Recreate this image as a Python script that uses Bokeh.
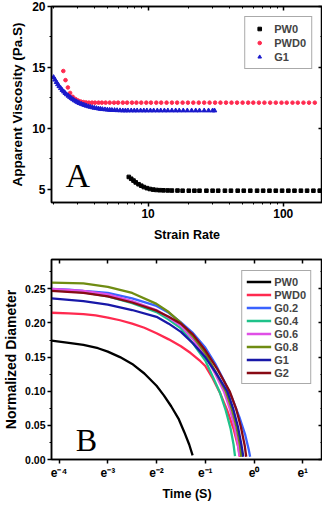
import numpy as np
from bokeh.plotting import figure
from bokeh.layouts import column
from bokeh.models import (LinearAxis, LogAxis, SingleIntervalTicker, LogTicker, FixedTicker,
                          PrintfTickFormatter, CustomJSTickFormatter, Label, Range1d)
from bokeh.embed import file_html
from bokeh.resources import INLINE

# ---------------- Panel A data (strain rate vs apparent viscosity) ----------------
pw0_rate = [7.2, 7.5, 7.8, 8.1, 8.5, 8.9, 9.3, 9.8, 10.3, 10.9, 11.5, 12.2, 13, 14, 15, 16.5,
            18, 20, 22, 24, 27, 30, 33, 37, 41, 46, 51, 57, 64, 71, 79, 88, 98, 109, 121,
            135, 150, 167, 186, 200]
pw0_visc = [6.0, 5.85, 5.7, 5.55, 5.4, 5.28, 5.17, 5.08, 5.01, 4.96, 4.93, 4.91, 4.9, 4.89,
            4.88, 4.88, 4.87, 4.87, 4.87, 4.87, 4.87, 4.87, 4.87, 4.87, 4.87, 4.87, 4.87,
            4.87, 4.87, 4.87, 4.87, 4.87, 4.87, 4.87, 4.87, 4.87, 4.87, 4.87, 4.87, 4.87]

pwd0_rate = [2.36, 2.45, 2.55, 2.65, 2.77, 2.9, 3.03, 3.17, 3.32, 3.48, 3.65, 3.85, 4.05,
             4.3, 4.55, 4.85, 5.2, 5.6, 6.0, 6.5, 7.0, 7.6, 8.2, 8.9, 9.7, 10.5, 11.5, 12.5,
             13.7, 15, 16.4, 18, 19.7, 21.6, 23.7, 26, 28.5, 31.3, 34.3, 37.7, 41.4, 45.5,
             50, 55, 60, 66, 72.5, 80, 88, 97, 106, 117, 128, 141, 155, 171]
pwd0_visc = [14.7, 13.95, 13.35, 12.9, 12.58, 12.4, 12.28, 12.2, 12.15, 12.12] + [12.1] * 46

g1_rate = [2.0, 2.05, 2.1, 2.15, 2.2, 2.26, 2.32, 2.38, 2.44, 2.5, 2.57, 2.64, 2.71, 2.78,
           2.86, 2.94, 3.02, 3.1, 3.2, 3.3, 3.4, 3.5, 3.62, 3.74, 3.87, 4.0, 4.15, 4.3, 4.45,
           4.6, 4.8, 5.0, 5.2, 5.4, 5.65, 5.9, 6.2, 6.5, 6.8, 7.1, 7.5, 7.9, 8.3, 8.8, 9.3,
           9.8, 10.4, 11, 11.7, 12.4, 13.2, 14, 15, 16, 17, 18.2, 19.5, 21, 22.5, 24, 26,
           28, 30, 31]
g1_visc = [14.19, 13.98, 13.78, 13.6, 13.44, 13.28, 13.13, 13.0, 12.88, 12.77, 12.66, 12.56,
           12.46, 12.37, 12.28, 12.2, 12.13, 12.06, 12.0, 11.94, 11.89, 11.84, 11.79, 11.75,
           11.71, 11.67, 11.64, 11.61, 11.58, 11.56, 11.54, 11.52, 11.5, 11.49, 11.48, 11.47,
           11.46] + [11.45] * 27

# ---------------- Panel B data (ln time vs normalized diameter) ----------------
b_names = ["PW0", "PWD0", "G0.2", "G0.4", "G0.6", "G0.8", "G1", "G2"]
b_colors = ["#000000", "#ff2a4f", "#3a62ff", "#1fc28a", "#e04fe6", "#6f8c12", "#1818a8", "#880a14"]

pw0_lnt = [-4.155, -3.8, -3.5, -3.2, -3.0, -2.75, -2.5, -2.25, -2.0, -1.85, -1.7, -1.55, -1.43, -1.33, -1.26]
pw0_d = [0.174, 0.171, 0.168, 0.163, 0.158, 0.150, 0.140, 0.126, 0.108, 0.094, 0.078, 0.060, 0.040, 0.022, 0.006]

pwd0_lnt = [-4.155, -3.8, -3.5, -3.25, -3.0, -2.75, -2.5, -2.25, -2.0, -1.75, -1.5, -1.3, -1.1, -1.0,
            -0.85, -0.7, -0.55, -0.42, -0.33, -0.29]
pwd0_d = [0.215, 0.214, 0.213, 0.211, 0.208, 0.204, 0.199, 0.193, 0.185, 0.176, 0.166, 0.156, 0.144,
          0.137, 0.119, 0.098, 0.072, 0.045, 0.020, 0.004]

g02_lnt = [-4.155, -3.8, -3.5, -3.0, -2.5, -2.0, -1.75, -1.5, -1.25, -1.0, -0.8, -0.62, -0.45, -0.3, -0.18, -0.11, -0.08]
g02_d = [0.250, 0.249, 0.247, 0.244, 0.236, 0.225, 0.215, 0.201, 0.185, 0.164, 0.141, 0.116, 0.090, 0.062, 0.036, 0.015, 0.004]

g04_lnt = [-4.155, -3.5, -3.0, -2.5, -2.0, -1.75, -1.5, -1.25, -1.0, -0.85, -0.7, -0.58, -0.48, -0.42, -0.39]
g04_d = [0.248, 0.245, 0.239, 0.229, 0.216, 0.205, 0.192, 0.170, 0.145, 0.122, 0.098, 0.072, 0.045, 0.022, 0.005]

g06_lnt = [-4.155, -3.5, -3.0, -2.5, -2.0, -1.75, -1.5, -1.25, -1.0, -0.8, -0.62, -0.5, -0.4, -0.33, -0.3]
g06_d = [0.250, 0.247, 0.242, 0.232, 0.219, 0.208, 0.196, 0.176, 0.152, 0.126, 0.100, 0.075, 0.048, 0.022, 0.005]

g08_lnt = [-4.155, -3.5, -3.0, -2.5, -2.0, -1.75, -1.5, -1.25, -1.0, -0.8, -0.58, -0.46, -0.36, -0.29, -0.26]
g08_d = [0.259, 0.258, 0.253, 0.244, 0.228, 0.216, 0.200, 0.180, 0.156, 0.130, 0.100, 0.075, 0.048, 0.022, 0.004]

g1_lnt = [-4.155, -3.5, -3.0, -2.5, -2.0, -1.75, -1.5, -1.25, -1.0, -0.78, -0.55, -0.43, -0.33, -0.26, -0.22]
g1_d = [0.236, 0.232, 0.227, 0.219, 0.209, 0.199, 0.187, 0.170, 0.150, 0.127, 0.100, 0.075, 0.048, 0.022, 0.004]

g2_lnt = [-4.155, -3.5, -3.0, -2.5, -2.0, -1.75, -1.5, -1.25, -1.0, -0.75, -0.5, -0.37, -0.27, -0.19, -0.16]
g2_d = [0.247, 0.244, 0.239, 0.230, 0.218, 0.209, 0.199, 0.183, 0.160, 0.132, 0.100, 0.075, 0.048, 0.020, 0.004]

b_lnt = [pw0_lnt, pwd0_lnt, g02_lnt, g04_lnt, g06_lnt, g08_lnt, g1_lnt, g2_lnt]
b_d = [pw0_d, pwd0_d, g02_d, g04_d, g06_d, g08_d, g1_d, g2_d]

FONT = "Liberation Sans"
W = 322


def style_axis(ax, label_size):
    ax.axis_line_width = 1.5
    ax.axis_line_color = "black"
    ax.major_tick_line_width = 1.5
    ax.minor_tick_line_width = 1
    ax.major_tick_out = 4
    ax.major_tick_in = 0
    ax.minor_tick_out = 2
    ax.minor_tick_in = 0
    ax.major_label_text_font = FONT
    ax.major_label_text_font_style = "bold"
    ax.major_label_text_font_size = label_size
    ax.major_label_text_color = "black"
    ax.major_label_standoff = 2
    ax.axis_label_text_font = FONT
    ax.axis_label_text_font_style = "bold"
    ax.axis_label_text_color = "black"


def mirror_axis(ax):
    ax.axis_line_width = 1.5
    ax.major_tick_line_width = 1.5
    ax.major_tick_in = 4
    ax.major_tick_out = 0
    ax.minor_tick_in = 2
    ax.minor_tick_out = 0
    ax.major_label_text_font_size = "1px"
    ax.major_label_text_color = None
    ax.major_label_standoff = 0


def style_frame(p):
    p.xgrid.visible = False
    p.ygrid.visible = False
    p.outline_line_color = "black"
    p.outline_line_width = 1.5
    p.background_fill_color = "white"
    p.border_fill_color = "white"


# ---------------- Panel A ----------------
pA = figure(width=W, height=246, x_axis_type="log",
            x_range=Range1d(1.93, 195), y_range=Range1d(3.9, 20),
            output_backend="svg", toolbar_location=None,
            min_border_left=44, min_border_right=0, min_border_top=6, min_border_bottom=44)
style_frame(pA)

pA.scatter(pw0_rate, pw0_visc, marker="square", size=3.6, color="black", legend_label="PW0")
pA.scatter(pwd0_rate, pwd0_visc, marker="circle", size=3.6, color="#ff2a4f", legend_label="PWD0")
pA.scatter(g1_rate, g1_visc, marker="triangle", size=4.5, color="#1a1acc", legend_label="G1")

ya = pA.yaxis[0]
ya.ticker = SingleIntervalTicker(interval=5, num_minor_ticks=2)
ya.axis_label = "Apparent Viscosity (Pa.S)"
style_axis(ya, "12px")
ya.axis_label_text_font_size = "13.5px"
ya.axis_label_standoff = 4

xa = pA.xaxis[0]
xa.ticker = LogTicker(num_minor_ticks=10)
xa.formatter = PrintfTickFormatter(format="%d")
xa.axis_label = "Strain Rate"
style_axis(xa, "12px")
xa.axis_label_text_font_size = "12.5px"
xa.axis_label_standoff = 7

ra = LinearAxis(ticker=SingleIntervalTicker(interval=5, num_minor_ticks=2))
mirror_axis(ra)
pA.add_layout(ra, "right")
ta = LogAxis(ticker=LogTicker(num_minor_ticks=10))
mirror_axis(ta)
pA.add_layout(ta, "above")

pA.add_layout(Label(x=2.45, y=6.1, text="A", text_font="Liberation Serif",
                    text_font_size="34px", text_baseline="alphabetic", text_color="black"))

lgA = pA.legend[0]
lgA.location = "top_right"
lgA.margin = 10
lgA.padding = 5
lgA.spacing = 1
lgA.label_height = 13
lgA.glyph_height = 9
lgA.glyph_width = 18
lgA.label_standoff = 6
lgA.label_text_font = FONT
lgA.label_text_font_style = "bold"
lgA.label_text_font_size = "11px"
lgA.border_line_color = "#555555"
lgA.border_line_width = 1
lgA.background_fill_alpha = 1

# ---------------- Panel B ----------------
pB = figure(width=W, height=257, x_axis_type="log",
            x_range=Range1d(float(np.exp(-4.155)), float(np.exp(1.405))),
            y_range=Range1d(0, 0.293),
            output_backend="svg", toolbar_location=None,
            min_border_left=44, min_border_right=0, min_border_top=13, min_border_bottom=39)
style_frame(pB)

for name, col, lnt, d in zip(b_names, b_colors, b_lnt, b_d):
    pB.line(np.exp(lnt), d, line_color=col, line_width=2.3, legend_label=name)

yb = pB.yaxis[0]
yb.ticker = SingleIntervalTicker(interval=0.05, num_minor_ticks=2)
yb.formatter = PrintfTickFormatter(format="%.2f")
yb.axis_label = "Normalized Diameter"
style_axis(yb, "10.5px")
yb.axis_label_text_font_size = "14px"
yb.axis_label_standoff = 3

xb = pB.xaxis[0]
xb.ticker = FixedTicker(ticks=[float(np.exp(k)) for k in range(-4, 2)], minor_ticks=[])
xb.formatter = CustomJSTickFormatter(code="""
const k = Math.round(Math.log(tick));
const sup = {'-': '\\u207b', '0': '\\u2070', '1': '\\u00b9', '2': '\\u00b2', '3': '\\u00b3', '4': '\\u2074'};
return 'e' + String(k).split('').map(c => sup[c]).join('');
""")
xb.axis_label = "Time (S)"
style_axis(xb, "12px")
xb.axis_label_text_font_size = "12.5px"
xb.axis_label_standoff = 4

rb = LinearAxis(ticker=SingleIntervalTicker(interval=0.05, num_minor_ticks=2))
mirror_axis(rb)
pB.add_layout(rb, "right")
tb = LogAxis(ticker=FixedTicker(ticks=[float(np.exp(k)) for k in range(-4, 2)], minor_ticks=[]))
mirror_axis(tb)
pB.add_layout(tb, "above")

pB.add_layout(Label(x=float(np.exp(-3.66)), y=0.028, text="B", text_font="Liberation Serif",
                    text_font_size="32px", text_baseline="alphabetic", text_color="black"))

lgB = pB.legend[0]
lgB.location = "top_right"
lgB.margin = 11
lgB.padding = 4
lgB.spacing = 0
lgB.label_height = 13
lgB.glyph_height = 13
lgB.glyph_width = 25
lgB.label_standoff = 3
lgB.label_text_font = FONT
lgB.label_text_font_style = "bold"
lgB.label_text_font_size = "11px"
lgB.border_line_color = "#555555"
lgB.border_line_width = 1
lgB.background_fill_alpha = 1

layout = column(pA, pB)
open("out.html", "w").write(file_html(layout, INLINE))
